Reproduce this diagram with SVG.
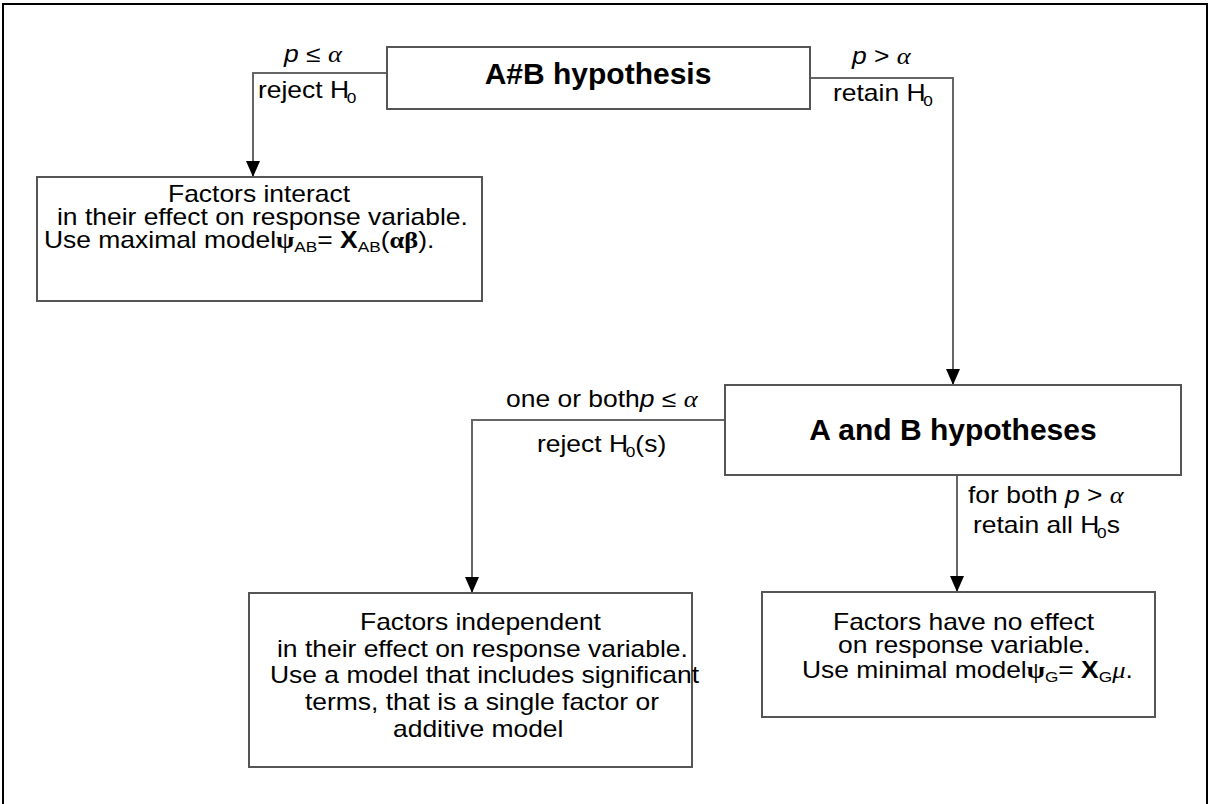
<svg xmlns="http://www.w3.org/2000/svg" width="1210" height="804" viewBox="0 0 1210 804">
<style>
.box{fill:#fff;stroke:#555;stroke-width:2}
.con{fill:none;stroke:#666;stroke-width:2}
.t{font-family:"Liberation Sans",Arial,sans-serif;font-size:23px;fill:#000}
.b{font-family:"Liberation Sans",Arial,sans-serif;font-size:30px;font-weight:bold;fill:#000}
.i{font-style:italic}
.g{font-family:"Liberation Serif","DejaVu Serif",serif;font-style:italic}
.gb{font-family:"Liberation Serif","DejaVu Serif",serif;font-weight:bold}
.sub{font-size:15px}
.bx{font-weight:bold}
</style>
<defs>
<marker id="ah" markerUnits="userSpaceOnUse" markerWidth="16" markerHeight="14" refX="16" refY="7" orient="auto">
<path d="M0,0 L16,7 L0,14 Z" fill="#000"/>
</marker>
</defs>
<rect x="3" y="4" width="1204" height="900" fill="none" stroke="#000" stroke-width="2"/>
<g id="connectors">
<path class="con" d="M387,73 H253 V177" marker-end="url(#ah)"/>
<path class="con" d="M810,78 H953 V385" marker-end="url(#ah)"/>
<path class="con" d="M725,420 H472 V593" marker-end="url(#ah)"/>
<path class="con" d="M957,475 V592" marker-end="url(#ah)"/>
<text class="t" transform="matrix(1.15 0 0 1 284 0)" y="62"><tspan class="i">p</tspan> ≤ <tspan class="g">α</tspan></text>
<text class="t" transform="matrix(1.15 0 0 1 258 0)" y="98">reject H<tspan class="sub" dx="-2" dy="5">0</tspan></text>
<text class="t" transform="matrix(1.15 0 0 1 852 0)" y="64"><tspan class="i">p</tspan> &gt; <tspan class="g">α</tspan></text>
<text class="t" transform="matrix(1.15 0 0 1 833 0)" y="101">retain H<tspan class="sub" dx="-2" dy="5">0</tspan></text>
<text class="t" transform="matrix(1.15 0 0 1 506 0)" y="407">one or both<tspan class="i">p</tspan> ≤ <tspan class="g">α</tspan></text>
<text class="t" transform="matrix(1.15 0 0 1 537 0)" y="452">reject H<tspan class="sub" dx="-2" dy="5">0</tspan><tspan dy="-5">(s)</tspan></text>
<text class="t" transform="matrix(1.15 0 0 1 968 0)" y="503">for both <tspan class="i">p</tspan> &gt; <tspan class="g">α</tspan></text>
<text class="t" transform="matrix(1.15 0 0 1 973 0)" y="533">retain all H<tspan class="sub" dx="-2" dy="5">0</tspan><tspan dy="-5">s</tspan></text>
</g>
<g id="node-axb">
<rect class="box" x="387" y="47" width="423" height="62"/>
<text class="b" x="598" y="84" text-anchor="middle">A#B hypothesis</text>
</g>
<g id="node-interact">
<rect class="box" x="37" y="177" width="445" height="124"/>
<text class="t" transform="matrix(1.15 0 0 1 168 0)" y="202">Factors interact</text>
<text class="t" transform="matrix(1.15 0 0 1 57 0)" y="225">in their effect on response variable.</text>
<text class="t" transform="matrix(1.15 0 0 1 44 0)" y="248">Use maximal model<tspan class="gb">ψ</tspan><tspan class="sub" dy="4">AB</tspan><tspan dy="-4">= </tspan><tspan class="bx">X</tspan><tspan class="sub" dy="4">AB</tspan><tspan dy="-4">(</tspan><tspan class="gb">αβ</tspan>).</text>
</g>
<g id="node-aandb">
<rect class="box" x="725" y="385" width="456" height="90"/>
<text class="b" x="953" y="440" text-anchor="middle">A and B hypotheses</text>
</g>
<g id="node-independent">
<rect class="box" x="249" y="593" width="443" height="174"/>
<text class="t" transform="matrix(1.15 0 0 1 360 0)" y="630">Factors independent</text>
<text class="t" transform="matrix(1.15 0 0 1 277 0)" y="657">in their effect on response variable.</text>
<text class="t" transform="matrix(1.15 0 0 1 270 0)" y="683">Use a model that includes significant</text>
<text class="t" transform="matrix(1.15 0 0 1 305 0)" y="710">terms, that is a single factor or</text>
<text class="t" transform="matrix(1.15 0 0 1 393 0)" y="737">additive model</text>
</g>
<g id="node-noeffect">
<rect class="box" x="762" y="592" width="393" height="125"/>
<text class="t" transform="matrix(1.15 0 0 1 833 0)" y="630">Factors have no effect</text>
<text class="t" transform="matrix(1.15 0 0 1 838 0)" y="653">on response variable.</text>
<text class="t" transform="matrix(1.15 0 0 1 802 0)" y="678">Use minimal model<tspan class="gb">ψ</tspan><tspan class="sub" dy="4">G</tspan><tspan dy="-4">= </tspan><tspan class="bx">X</tspan><tspan class="sub" dy="4">G</tspan><tspan class="g" dy="-4">μ</tspan>.</text>
</g>
</svg>
